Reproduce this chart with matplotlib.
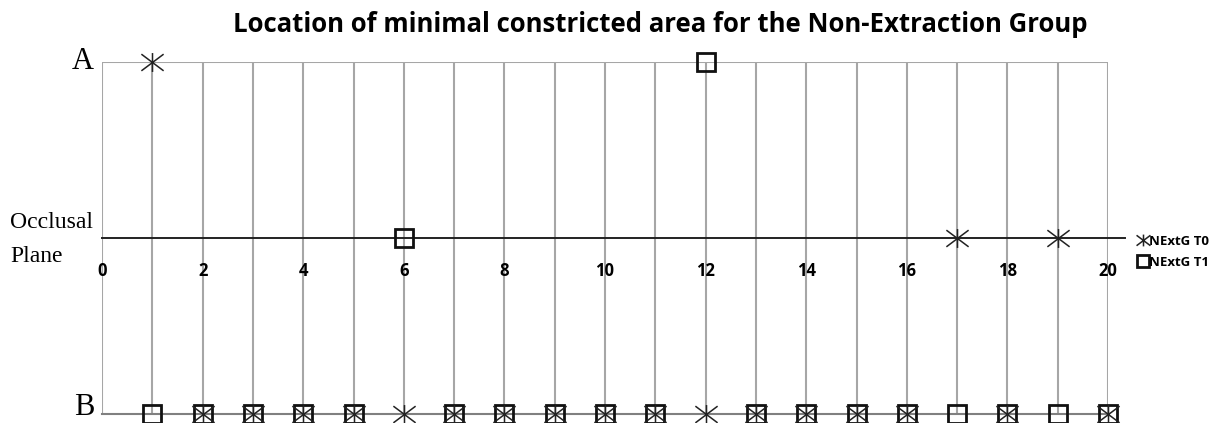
import numpy as np
import matplotlib.pyplot as plt
from matplotlib.path import Path

# Positions: 1 = A, 0 = occlusal plane, -1 = B
t0_x = [1, 17, 19, 2, 3, 4, 5, 6, 7, 8, 9, 10, 11, 12, 13, 14, 15, 16, 18, 20]
t0_y = [1, 0, 0, -1, -1, -1, -1, -1, -1, -1, -1, -1, -1, -1, -1, -1, -1, -1, -1, -1]
t1_x = [12, 6, 1, 2, 3, 4, 5, 7, 8, 9, 10, 11, 13, 14, 15, 16, 17, 18, 19, 20]
t1_y = [1, 0, -1, -1, -1, -1, -1, -1, -1, -1, -1, -1, -1, -1, -1, -1, -1, -1, -1, -1]
xticks = list(range(0, 21, 2))
title = "Location of minimal constricted area for the Non-Extraction Group"

# asterisk marker: vertical stroke plus a flat X
ast = Path([(0, -0.85), (0, 0.85), (-1, -0.75), (1, 0.75), (-1, 0.75), (1, -0.75)],
           [Path.MOVETO, Path.LINETO, Path.MOVETO, Path.LINETO, Path.MOVETO, Path.LINETO])

fig = plt.figure(figsize=(12.2, 4.23), dpi=100)
ax = fig.add_axes([102 / 1220, 1 - 414 / 423, 1006 / 1220, (414 - 62) / 423])
ax.set_xlim(0, 20)
ax.set_ylim(-1, 1)
for s in ax.spines.values():
    s.set_visible(False)

# grid
grid_col = "#a6a6a6"
ax.vlines(range(0, 21), -1, 1, color=grid_col, lw=1.5, zorder=1)
ax.axhline(1, color=grid_col, lw=1.5, zorder=1)
ax.axhline(-1, color="#808080", lw=1.5, zorder=1, clip_on=False)
ax.axhline(0, xmin=0, xmax=1.017, color="#222222", lw=1.4, zorder=2, clip_on=False)

# markers
ax.plot(t0_x, t0_y, ls="none", marker=ast, ms=16, mec="#222222", mfc="none", mew=1.1,
        label="NExtG T0", clip_on=False, zorder=4)
ax.plot(t1_x, t1_y, ls="none", marker="s", ms=12.5, mfc="none", mec="#111111", mew=2,
        label="NExtG T1", clip_on=False, zorder=3)

# x ticks along occlusal plane
ax.spines["bottom"].set_position(("data", 0))
ax.set_xticks(xticks)
ax.set_xticklabels([str(v) for v in xticks], fontweight="bold", fontsize=12,
                   family="Open Sans")
ax.tick_params(axis="x", length=0, pad=17)
ax.set_yticks([])

# side labels
ytr = ax.get_yaxis_transform()
ax.text(-0.008, 1, "A", transform=ytr, ha="right", va="center",
        family="Liberation Serif", fontsize=22)
ax.text(-0.008, -0.965, "B", transform=ytr, ha="right", va="center",
        family="Liberation Serif", fontsize=22)
fig.text(10 / 1220, 1 - 222 / 423, "Occlusal", ha="left", va="center",
         family="Liberation Serif", fontsize=17)
fig.text(10 / 1220, 1 - 257 / 423, "Plane", ha="left", va="center",
         family="Liberation Serif", fontsize=17)

fig.suptitle(title, x=0.541, y=0.975, fontsize=18.5, fontweight="bold", family="Open Sans")

leg = fig.legend(loc="upper left", bbox_to_anchor=(1132 / 1220, 1 - 228 / 423),
                 frameon=False, handlelength=0.6, handletextpad=0.2, borderpad=0,
                 labelspacing=0.6, prop={"family": "Open Sans", "weight": "bold", "size": 9.5})
for h in leg.legend_handles:
    h.set_markersize(10)
leg.legend_handles[1].set_markersize(9)

fig.savefig("out.png", dpi=100)
